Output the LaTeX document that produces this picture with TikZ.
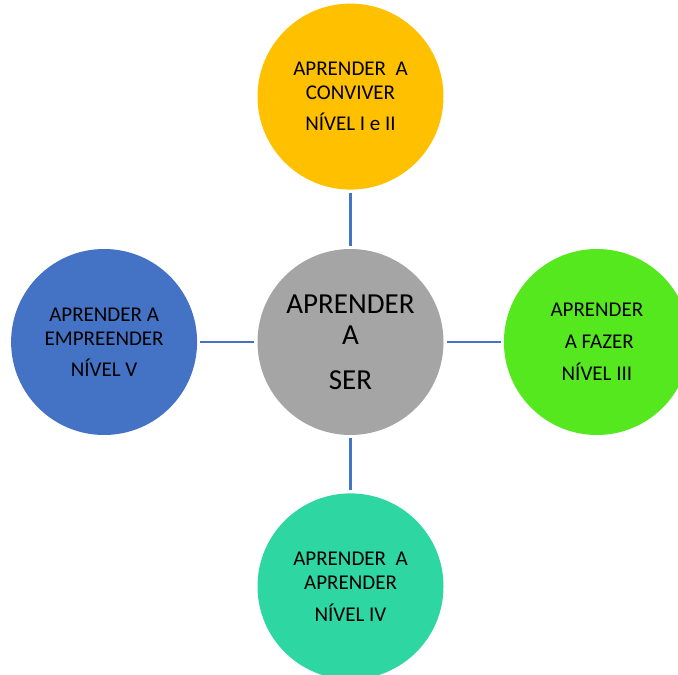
\documentclass[tikz,border=0pt]{standalone}
\usepackage{fontspec}
\setmainfont{Carlito}
\usepackage{tikz}
\usetikzlibrary{positioning}
\definecolor{Cgold}{HTML}{FFC000}
\definecolor{Cgray}{HTML}{A5A5A5}
\definecolor{Cblue}{HTML}{4472C4}
\definecolor{Clime}{HTML}{55E81E}
\definecolor{Cteal}{HTML}{2ED6A1}
\definecolor{Cline}{HTML}{4472C4}
\tikzset{
    ccirc/.style={
        circle, minimum size=186pt, inner sep=0pt, draw=none,
        text=black, align=center, font=\fontsize{21}{24}\selectfont
    },
    clink/.style={line width=2.2pt, draw=Cline, shorten <=3pt, shorten >=3pt},
}

\begin{document}
\begin{tikzpicture}[x=1pt, y=1pt]

    \clip (0,0) rectangle (678,675);

    % ── centro ─────────────────────────────────────────────
    \node [ccirc, fill=Cgray, font=\fontsize{29}{31}\selectfont]
        (ser) at (350.5,333) {APRENDER\\A\\[14pt]SER};

    % ── quatro pilares ao redor ─────────────────────────────
    \node [ccirc, fill=Cgold, above=59pt of ser]
        (conviver) {APRENDER\ \ A\\CONVIVER\\[7pt]NÍVEL I e II};
    \node [ccirc, fill=Cblue, left=60pt of ser]
        (empreender) {APRENDER A\\EMPREENDER\\[7pt]NÍVEL V};
    \node [ccirc, fill=Clime, right=60pt of ser]
        (fazer) {APRENDER\\[8pt]\ A FAZER\\[8pt]NÍVEL III};
    \node [ccirc, fill=Cteal, below=58pt of ser]
        (aprender) {APRENDER\ \ A\\APRENDER\\[8pt]NÍVEL IV};

    % ── ligações ───────────────────────────────────────────
    \draw [clink] (ser) -- (conviver);
    \draw [clink] (ser) -- (empreender);
    \draw [clink] (ser) -- (fazer);
    \draw [clink] (ser) -- (aprender);

\end{tikzpicture}
\end{document}
